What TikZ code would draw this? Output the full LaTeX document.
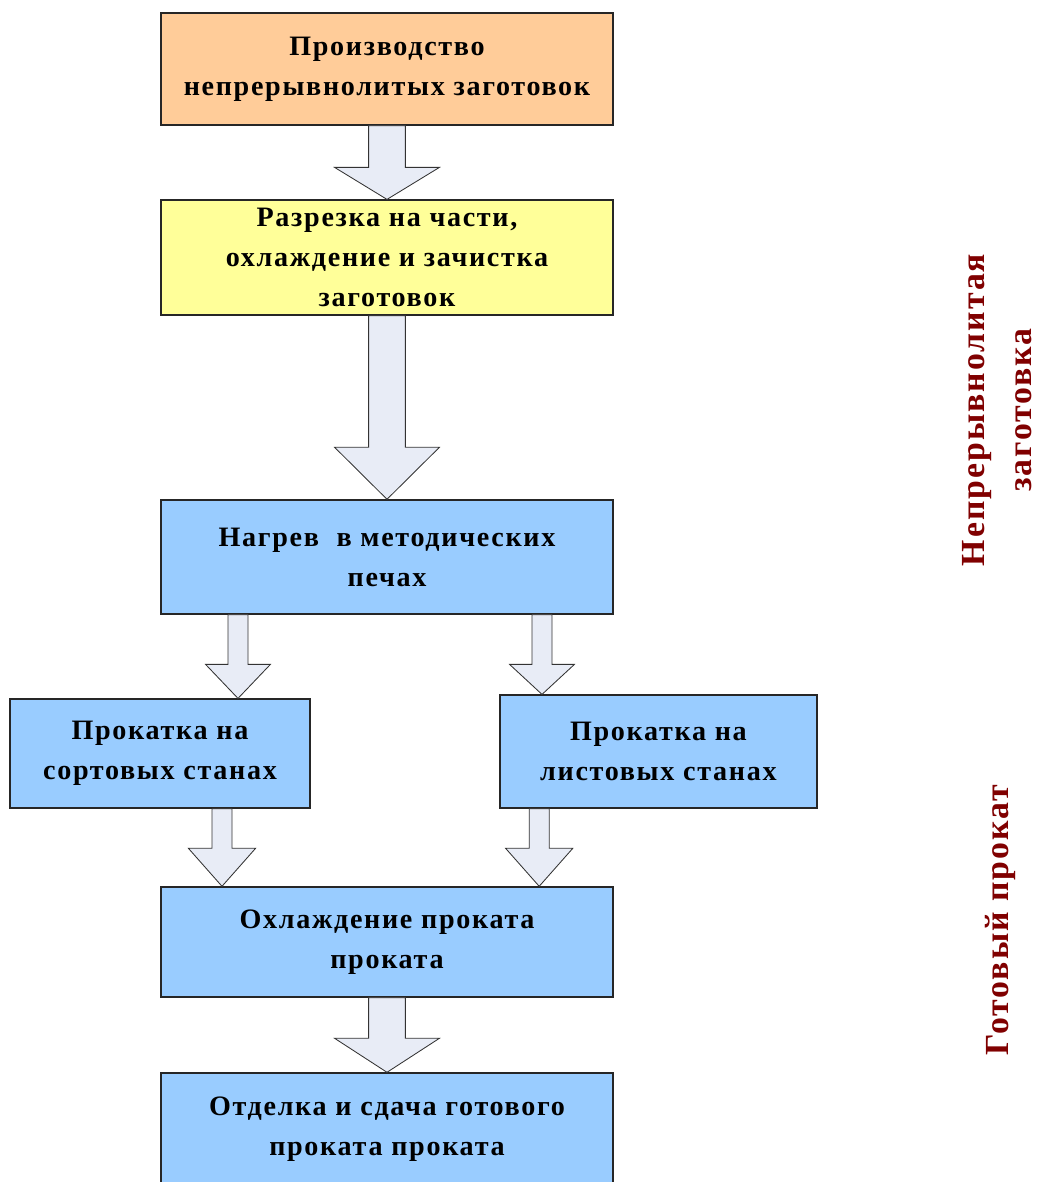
\documentclass[tikz,border=0pt]{standalone}
\usepackage{fontspec}
\setmainfont{Liberation Serif}
\usepackage{xcolor}
\usepackage{tikz}
\usetikzlibrary{positioning,calc}

% hollow block arrow: from, to, x, shaft half width, head half width, head length
\newcommand{\fatarrow}[6]{%
  \path (#3,0 |- #1.south) coordinate (fa-s) (#3,0 |- #2.north) coordinate (fa-e);
  \draw[fat] ([xshift=-#4]fa-s) -- ([xshift=-#4,yshift=#6]fa-e) -- ([xshift=-#5,yshift=#6]fa-e)
    -- (fa-e) -- ([xshift=#5,yshift=#6]fa-e) -- ([xshift=#4,yshift=#6]fa-e) -- ([xshift=#4]fa-s) -- cycle;
}

\begin{document}
\begin{tikzpicture}[
      font=\fontsize{20pt}{28.5pt}\selectfont\bfseries\addfontfeatures{LetterSpace=6},
      box/.style={rectangle, draw=black!85, line width=1pt, minimum width=11.3cm,
        minimum height=2.8cm, align=center, inner sep=3pt},
      fat/.style={draw=black!80, line width=0.6pt, fill=arrowfill, line join=miter},
      side/.style={rotate=90, align=center, text=sidered,
        font=\fontsize{24pt}{33pt}\selectfont\bfseries\addfontfeatures{LetterSpace=6}},
    ]
    \definecolor{boxorange}{RGB}{255,204,153}
    \definecolor{boxyellow}{RGB}{255,255,153}
    \definecolor{boxblue}{RGB}{153,204,255}
    \definecolor{arrowfill}{RGB}{232,236,246}
    \definecolor{sidered}{RGB}{128,0,0}

    \useasboundingbox (0,0) rectangle (25.925,-29.55);
    \clip (0,0) rectangle (25.925,-29.55);

    \node[box, fill=boxorange] (cast)  at (9.675,-1.725)  {Производство\\непрерывнолитых заготовок};
    \node[box, fill=boxyellow, minimum height=2.875cm] (cut) at (9.675,-6.44) {Разрезка на части,\\охлаждение и зачистка\\заготовок};
    \node[box, fill=boxblue, minimum height=2.85cm] (heat) at (9.675,-13.925) {Нагрев~ в методических\\печах};
    \node[box, fill=boxblue, minimum width=7.5cm, minimum height=2.725cm] (bar) at (4.0,-18.84) {Прокатка на\\сортовых станах};
    \node[box, fill=boxblue, minimum width=7.925cm, minimum height=2.825cm] (sheet) at (16.46,-18.79) {Прокатка на\\листовых станах};
    \node[box, fill=boxblue, minimum height=2.75cm] (cool) at (9.675,-23.55) {Охлаждение проката\\проката};
    \node[box, fill=boxblue] (finish) at (9.675,-28.225) {Отделка и сдача готового\\проката проката};

    \node[side] (billet) at (24.93,-10.25) {Непрерывнолитая\\заготовка};
    \node[side] (product) at (25.0,-23.0) {Готовый прокат};

    \fatarrow{cast}{cut}{9.675}{0.46cm}{1.31cm}{0.8cm}
    \fatarrow{cut}{heat}{9.675}{0.46cm}{1.31cm}{1.3cm}
    \fatarrow{heat}{bar}{5.95}{0.25cm}{0.81cm}{0.85cm}
    \fatarrow{heat}{sheet}{13.55}{0.25cm}{0.81cm}{0.75cm}
    \fatarrow{bar}{cool}{5.55}{0.25cm}{0.84cm}{0.95cm}
    \fatarrow{sheet}{cool}{13.48}{0.25cm}{0.84cm}{0.95cm}
    \fatarrow{cool}{finish}{9.675}{0.46cm}{1.31cm}{0.85cm}
  \end{tikzpicture}
\end{document}
